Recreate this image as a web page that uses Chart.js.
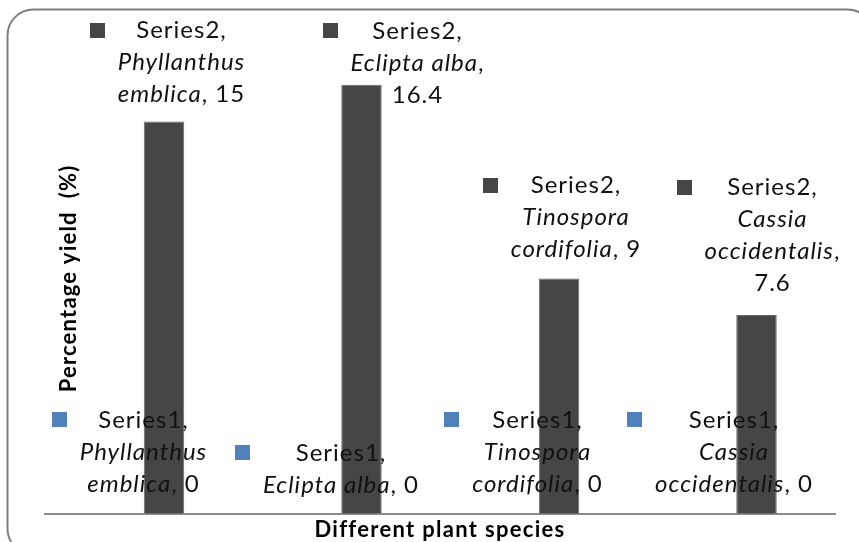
<!DOCTYPE html>
<html><head><meta charset="utf-8">
<script src="https://cdn.jsdelivr.net/npm/chart.js@4.4.1/dist/chart.umd.min.js"></script>
<style>html,body{margin:0;padding:0;background:#fff}#wrap{width:859px;height:542px;position:relative}</style>
</head><body><div id="wrap"><canvas id="c"></canvas></div>
<script>
// ---- data ----
const categories = ["Phyllanthus emblica", "Eclipta alba", "Tinospora cordifolia", "Cassia occidentalis"];
const seriesNames = ["Series1", "Series2"];
const series1 = [0, 0, 0, 0];
const series2 = [15, 16.4, 9, 7.6];
const yMin = 0;
const yMax = 18;
const xTitle = "Different plant species";
const yTitle = "Percentage yield  (%)";

// ---- label layout (wrapping + offsets from each bar) ----
const wrap1 = [[1, 1], [2], [1, 1], [1, 1]];
const wrap2 = [[1, 1], [2], [1, 1], [1, 1]];
const ownLine1 = [false, false, false, false];
const ownLine2 = [false, true, false, true];
const off1 = [[20, -94], [20, -61], [19, -94], [18, -94]];
const off2 = [[17.5, -91], [56, -54], [17, -93], [16, -128]];

const colors = ["#4F81BD", "#464646"];
const FONT = "Lato";
const LABEL_SIZE = 24;
const LS = "1px";

function buildLines(idx, v, sName, wrap, ownLine) {
  const words = categories[idx].split(" ");
  const lines = [[{t: sName + ",", it: false}]];
  let k = 0;
  wrap.forEach((n, li) => {
    const w = words.slice(k, k + n).join(" "); k += n;
    const line = [{t: w, it: true}];
    if (li === wrap.length - 1) {
      if (ownLine) { line.push({t: ",", it: false}); }
      else { line.push({t: ", " + v, it: false}); }
    }
    lines.push(line);
  });
  if (ownLine) lines.push([{t: String(v), it: false}]);
  return lines;
}

const labelPlugin = {
  id: 'labels',
  beforeDraw(chart) {
    const ctx = chart.ctx;
    ctx.save();
    ctx.fillStyle = '#fff';
    ctx.fillRect(0, 0, chart.width, chart.height);
    ctx.strokeStyle = '#7f7f7f';
    ctx.lineWidth = 2;
    ctx.beginPath();
    ctx.roundRect(7.5, 9.5, 866, 545, 26);
    ctx.stroke();
    ctx.restore();
    ctx.letterSpacing = "1.3px";
  },
  afterDraw(chart) {
    const ctx = chart.ctx;
    ctx.letterSpacing = "0px";
    const ca = chart.chartArea;
    // y-axis title
    ctx.save();
    ctx.letterSpacing = "1.2px";
    ctx.translate(ca.left + 24, (ca.top + ca.bottom) / 2);
    ctx.rotate(-Math.PI / 2);
    ctx.font = "bold 22px " + FONT;
    ctx.fillStyle = "#000";
    ctx.textAlign = "center";
    ctx.textBaseline = "middle";
    ctx.fillText(yTitle, 0, 0);
    ctx.restore();

    // data labels
    const specs = [
      {data: series1, wrap: wrap1, own: ownLine1, off: off1},
      {data: series2, wrap: wrap2, own: ownLine2, off: off2}
    ];
    ctx.save();
    ctx.letterSpacing = LS;
    ctx.textBaseline = "middle";
    ctx.textAlign = "left";
    specs.forEach((s, di) => {
      const meta = chart.getDatasetMeta(di);
      meta.data.forEach((bar, j) => {
        const lines = buildLines(j, s.data[j], seriesNames[di], s.wrap[j], s.own[j]);
        const cx = bar.x + s.off[j][0];
        const y0 = bar.y + s.off[j][1];
        const widths = lines.map(line => line.reduce((acc, p) => {
          ctx.font = (p.it ? "italic " : "") + LABEL_SIZE + "px " + FONT;
          return acc + ctx.measureText(p.t).width;
        }, 0));
        const maxW = Math.max(...widths);
        const blockLeft = cx - maxW / 2;
        ctx.fillStyle = colors[di];
        ctx.fillRect(Math.round(blockLeft - 28), Math.round(y0 - 7.5), 15, 15);
        ctx.fillStyle = "#111";
        lines.forEach((line, li) => {
          let x = cx - widths[li] / 2;
          const y = y0 + li * 32;
          line.forEach(p => {
            ctx.font = (p.it ? "italic " : "") + LABEL_SIZE + "px " + FONT;
            ctx.fillText(p.t, x, y);
            x += ctx.measureText(p.t).width;
          });
        });
      });
    });
    ctx.restore();
  }
};

new Chart(document.getElementById('c'), {
  type: 'bar',
  data: {
    labels: categories,
    datasets: [
      {label: seriesNames[0], data: series1, backgroundColor: colors[0],
       categoryPercentage: 0.41, barPercentage: 1.0},
      {label: seriesNames[1], data: series2, backgroundColor: colors[1],
       borderColor: "#6a6a6a", borderWidth: 1,
       categoryPercentage: 0.41, barPercentage: 1.0}
    ]
  },
  options: {
    responsive: true,
    maintainAspectRatio: false,
    animation: false,
    layout: {padding: {left: 45, right: 24, top: 43, bottom: 0}},
    plugins: {legend: {display: false}, tooltip: {enabled: false}},
    scales: {
      x: {
        grid: {display: false, drawTicks: false},
        ticks: {display: false},
        border: {display: true, color: "#8c8c8c", width: 2},
        title: {display: true, text: xTitle, color: "#000",
                font: {family: FONT, size: 22, weight: 'bold', lineHeight: 1.1},
                padding: {top: 4, bottom: 0}}
      },
      y: {
        display: false,
        min: yMin, max: yMax
      }
    }
  },
  plugins: [labelPlugin]
});
</script>
</body></html>
